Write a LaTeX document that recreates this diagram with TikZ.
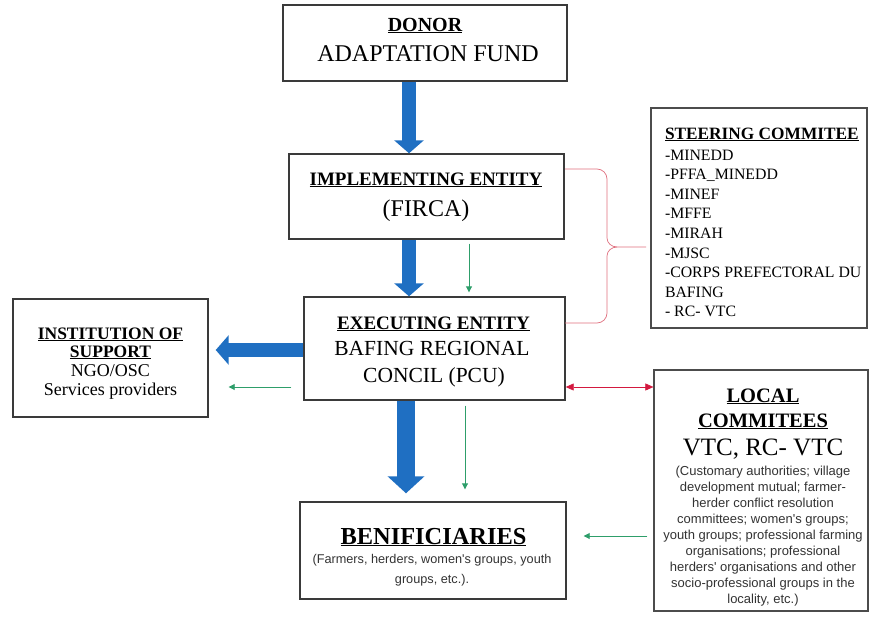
\documentclass[tikz,border=0pt]{standalone}
\usepackage{fontspec}
\setmainfont{Liberation Serif}
\newfontfamily\sansf{Liberation Sans}
\usetikzlibrary{arrows.meta,calc}
\definecolor{bluearrow}{HTML}{1F6FC2}
\definecolor{greenarrow}{HTML}{2E9E6A}
\definecolor{redtip}{HTML}{D3193F}
\definecolor{bracered}{HTML}{E0707F}
\definecolor{boxline}{HTML}{3A3A3A}
\definecolor{smalltext}{HTML}{333333}
\tikzset{
  box/.style={draw=boxline, line width=1.4pt, inner sep=0pt, fill=white},
  txt/.style={anchor=base, inner sep=0pt, outer sep=0pt},
  ltxt/.style={anchor=base west, inner sep=0pt, outer sep=0pt},
  bigarrow/.style={draw=bluearrow, line width=14pt, -{Triangle[width=29pt,length=13pt]}},
  hugearrow/.style={draw=bluearrow, line width=18pt, -{Triangle[width=36pt,length=17pt]}},
  thinarrow/.style={draw=greenarrow, line width=0.9pt, -{Triangle[width=6pt,length=6pt]}},
  dblarrow/.style={draw=redtip, line width=0.6pt, {Triangle[width=7pt,length=8pt]}-{Triangle[width=7pt,length=8pt]}},
  bracepath/.style={draw=bracered, line width=0.7pt}
}
\newcommand{\fs}[1]{\fontsize{#1}{#1}\selectfont}
\begin{document}
\begin{tikzpicture}[x=1pt,y=-1pt]
\useasboundingbox (0,0) rectangle (870,621);
\fill[white] (0,0) rectangle (870,621);

% boxes
\node[box, minimum width=284, minimum height=76] (donor) at (425,43) {};
\node[box, minimum width=275, minimum height=85] (impl) at (426.5,196.5) {};
\node[box, minimum width=261, minimum height=103] (exec) at (434.5,348.5) {};
\node[box, minimum width=195, minimum height=118] (inst) at (110.5,358) {};
\node[box, line width=1.2pt, draw=black!70, minimum width=216, minimum height=220] (steer) at (759,218) {};
\node[box, line width=1.2pt, draw=black!70, minimum width=214, minimum height=241] (local) at (761,490.5) {};
\node[box, minimum width=266, minimum height=97] (ben) at (433,550.5) {};

% DONOR texts
\node[txt] at (425,31) {\fs{20}\bfseries\underline{DONOR}};
\node[txt] at (428,61) {\fs{24}ADAPTATION FUND};

% IMPLEMENTING
\node[txt] at (426,185) {\fs{19}\bfseries\underline{IMPLEMENTING ENTITY}};
\node[txt] at (426,216) {\fs{24}(FIRCA)};

% EXECUTING
\node[txt] at (433.5,329) {\fs{19}\bfseries\underline{EXECUTING ENTITY}};
\node[txt] at (432,355) {\fs{21.5}BAFING REGIONAL};
\node[txt] at (434,382) {\fs{21.5}CONCIL (PCU)};

% INSTITUTION
\node[txt] at (110.5,339) {\fs{17.5}\bfseries\underline{INSTITUTION OF}};
\node[txt] at (110.5,357) {\fs{17.5}\bfseries\underline{SUPPORT}};
\node[txt] at (110.5,376) {\fs{18}NGO/OSC};
\node[txt] at (110.5,395) {\fs{18}Services providers};

% STEERING
\node[ltxt] at (665,139) {\fs{17.3}\bfseries\underline{STEERING COMMITEE}};
\node[ltxt] at (665,160) {\fs{15.8}-MINEDD};
\node[ltxt] at (665,179.6) {\fs{15.8}-PFFA\_MINEDD};
\node[ltxt] at (665,199.2) {\fs{15.8}-MINEF};
\node[ltxt] at (665,218.8) {\fs{15.8}-MFFE};
\node[ltxt] at (665,238.4) {\fs{15.8}-MIRAH};
\node[ltxt] at (665,258) {\fs{15.8}-MJSC};
\node[ltxt] at (665,277.6) {\fs{15.8}-CORPS PREFECTORAL DU};
\node[ltxt] at (665,297.2) {\fs{15.8}BAFING};
\node[ltxt] at (665,316.8) {\fs{15.8}- RC- VTC};

% LOCAL
\node[txt] at (763,402) {\fs{20.5}\bfseries\underline{LOCAL}};
\node[txt] at (763,427) {\fs{20.5}\bfseries\underline{COMMITEES}};
\node[txt] at (763,455) {\fs{25}VTC, RC- VTC};
\begin{scope}[every node/.append style={text=smalltext}]
\node[txt] at (763,475) {\sansf\fs{13}(Customary authorities; village};
\node[txt] at (763,491) {\sansf\fs{13}development mutual; farmer-};
\node[txt] at (763,507) {\sansf\fs{13}herder conflict resolution};
\node[txt] at (763,523) {\sansf\fs{13}committees; women's groups;};
\node[txt] at (763,539) {\sansf\fs{13}youth groups; professional farming};
\node[txt] at (763,555) {\sansf\fs{13}organisations; professional};
\node[txt] at (763,571) {\sansf\fs{13}herders' organisations and other};
\node[txt] at (763,587) {\sansf\fs{13}socio-professional groups in the};
\node[txt] at (763,603) {\sansf\fs{13}locality, etc.)};
\node[txt] at (432,563) {\sansf\fs{12.7}(Farmers, herders, women's groups, youth};
\node[txt] at (432,583) {\sansf\fs{12.7}groups, etc.).};
\end{scope}

% BENIFICIARIES
\node[txt] at (433.5,544) {\fs{24.4}\bfseries\underline{BENIFICIARIES}};

% blue arrows
\draw[bigarrow] ($(donor.south)+(-16,0)$) -- ($(impl.north)+(-17.5,0)$);
\draw[bigarrow] ($(impl.south)+(-17.5,0)$) -- ($(exec.north)+(-25.5,0)$);
\draw[bigarrow] ($(exec.west)+(0,1.5)$) -- ($(inst.east)+(7,-8)$);
\draw[hugearrow] ($(exec.south)+(-28.5,0)$) -- ($(ben.north)+(-27,-8)$);

% green arrows
\draw[thinarrow] ($(impl.south)+(42.5,4)$) -- ($(exec.north)+(34.5,-4)$);
\draw[thinarrow] ($(exec.west)+(-12,38.5)$) -- ($(inst.east)+(20,29)$);
\draw[thinarrow] ($(exec.south)+(30.5,5)$) -- ($(ben.north)+(32,-12)$);
\draw[thinarrow] ($(local.west)+(-6,45.5)$) -- ($(ben.east)+(17,-14.5)$);

% red double arrow
\draw[dblarrow] ($(exec.east)+(0,38.5)$) -- ($(local.west)+(0,-103.5)$);

% brace
\draw[bracepath] (565,169) -- (597,169) to[out=0,in=90] (607,179) -- (607,238)
  to[out=-90,in=180] (617,247) -- (646,247);
\draw[bracepath] (617,247) to[out=180,in=90] (607,256) -- (607,313)
  to[out=-90,in=0] (597,323) -- (565,323);
\end{tikzpicture}
\end{document}
